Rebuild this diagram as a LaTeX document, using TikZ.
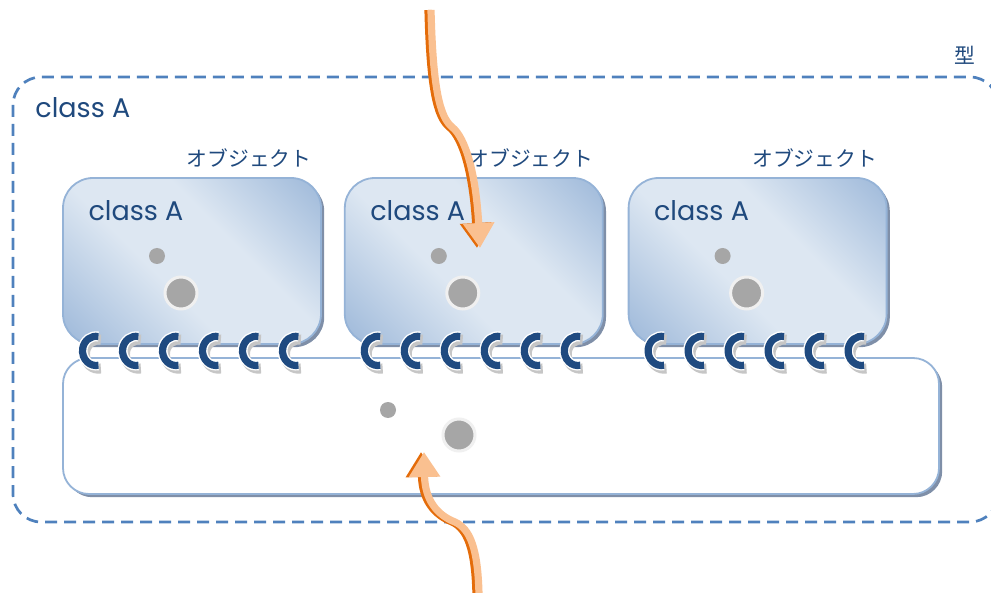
\documentclass[tikz,border=0pt]{standalone}
\usepackage{fontspec}
\setmainfont{Poppins}
\newfontfamily\jpfont{Noto Sans CJK JP}
\usetikzlibrary{positioning,shadows,arrows.meta}

\definecolor{frameblue}{HTML}{4F81BD}
\definecolor{textblue}{HTML}{1F497D}
\definecolor{boxline}{HTML}{95B3D7}
\definecolor{boxdark}{HTML}{92B0D5}
\definecolor{boxlight}{HTML}{DDE7F2}
\definecolor{dotgray}{HTML}{A6A6A6}
\definecolor{ringblue}{HTML}{1F4A80}
\definecolor{arrowdark}{HTML}{E46C0A}
\definecolor{arrowlight}{HTML}{FAC090}
\definecolor{shadowgray}{HTML}{7F8FA8}

\pgfdeclarehorizontalshading{objshade}{100bp}{color(0bp)=(boxdark); color(10bp)=(boxdark); color(42bp)=(boxlight); color(60bp)=(boxlight); color(90bp)=(boxdark); color(100bp)=(boxdark)}

\tikzset{
  typeframe/.style={draw=frameblue, line width=1.35pt, dash pattern=on 6pt off 3.5pt, rounded corners=14pt},
  objbox/.style={draw=boxline, line width=0.9pt, rounded corners=15pt, shading=objshade, shading angle=45,
    minimum width=129pt, minimum height=83pt,
    drop shadow={shadow xshift=1.6pt, shadow yshift=-1.6pt, fill=shadowgray, opacity=1}},
  basebox/.style={draw=boxline, line width=0.9pt, fill=white, rounded corners=13pt,
    minimum width=438pt, minimum height=68pt,
    drop shadow={shadow xshift=1.6pt, shadow yshift=-1.6pt, fill=shadowgray, opacity=1}},
  smalldot/.style={circle, fill=dotgray, inner sep=0pt, minimum size=8pt},
  bigdot/.style={circle, fill=dotgray, draw=gray!12, line width=1.5pt, inner sep=0pt, minimum size=16pt},
  classlabel/.style={text=textblue, font=\fontsize{13.5}{14}\selectfont, inner sep=0pt},
  objlabel/.style={text=textblue, font=\jpfont\fontsize{10.4}{11}\selectfont, inner sep=0pt},
  ring/.pic={
    \draw[gray!45, line width=5pt, shift={(1.2pt,-1.6pt)}] (80:6.8pt and 7.3pt) arc[start angle=80, end angle=280, x radius=6.8pt, y radius=7.3pt];
    \draw[white, line width=5pt] (80:6.8pt and 7.3pt) arc[start angle=80, end angle=280, x radius=6.8pt, y radius=7.3pt];
    \draw[ringblue, line width=3.6pt] (80:6.8pt and 7.3pt) arc[start angle=80, end angle=280, x radius=6.8pt, y radius=7.3pt];
  },
}

\begin{document}
\begin{tikzpicture}[x=0.5pt, y=-0.5pt]
  \useasboundingbox (0,0) rectangle (991,593);
  \clip (0,0) rectangle (991,593);

  % type frame
  \draw[typeframe] (13,77) rectangle (998,522);
  \node[objlabel] (typelabel) at (965,55) {型};
  \node[classlabel, anchor=base west] (typeclass) at (35,118) {class A};

  % shared part
  \node[basebox] (base) at (501,426) {};
  \node[smalldot] (basesmall) at ([xshift=-56.5pt, yshift=8pt]base.center) {};
  \node[bigdot] (basebig) at ([xshift=-21pt, yshift=-4.5pt]base.center) {};

  % objects
  \node[objbox] (obj1) at (192,261) {};
  \node[objbox, right=11pt of obj1] (obj2) {};
  \node[objbox, right=12pt of obj2] (obj3) {};

  \foreach \o in {obj1,obj2,obj3} {
    \node[objlabel, anchor=east] at ([xshift=-5pt, yshift=9.5pt]\o.north east) {オブジェクト};
    \node[classlabel, anchor=base west] at ([xshift=13pt, yshift=-21.5pt]\o.north west) {class A};
    \node[smalldot] (\o small) at ([xshift=-17.5pt, yshift=2.5pt]\o.center) {};
    \node[bigdot] (\o big) at ([xshift=-5.5pt, yshift=-16pt]\o.center) {};
    \foreach \k in {0,...,5}
      \pic at ([xshift={17pt+\k*20pt}, yshift=-3pt]\o.south west) {ring};
  }

  % calls in and out
  \coordinate (callin) at (431,10);
  \coordinate (calltip) at (480,248);
  \coordinate (retin) at (479,595);
  \coordinate (rettip) at (424,452);
  \foreach \col/\dx in {arrowdark/-1.5pt, arrowlight/0pt} {
    \draw[draw=\col, line width=3.6pt, -{Triangle[width=15pt, length=12.5pt, fill=\col]}, transform canvas={xshift=\dx}]
      (callin) .. controls (433,90) and (440,117) .. (452,127) .. controls (466,138) and (476,175) .. (calltip);
    \draw[draw=\col, line width=3.6pt, -{Triangle[width=15pt, length=12.5pt, fill=\col]}, transform canvas={xshift=\dx}]
      (retin) .. controls (478,548) and (470,529) .. (455,522) .. controls (437,515) and (425,500) .. (rettip);
  }
\end{tikzpicture}
\end{document}
